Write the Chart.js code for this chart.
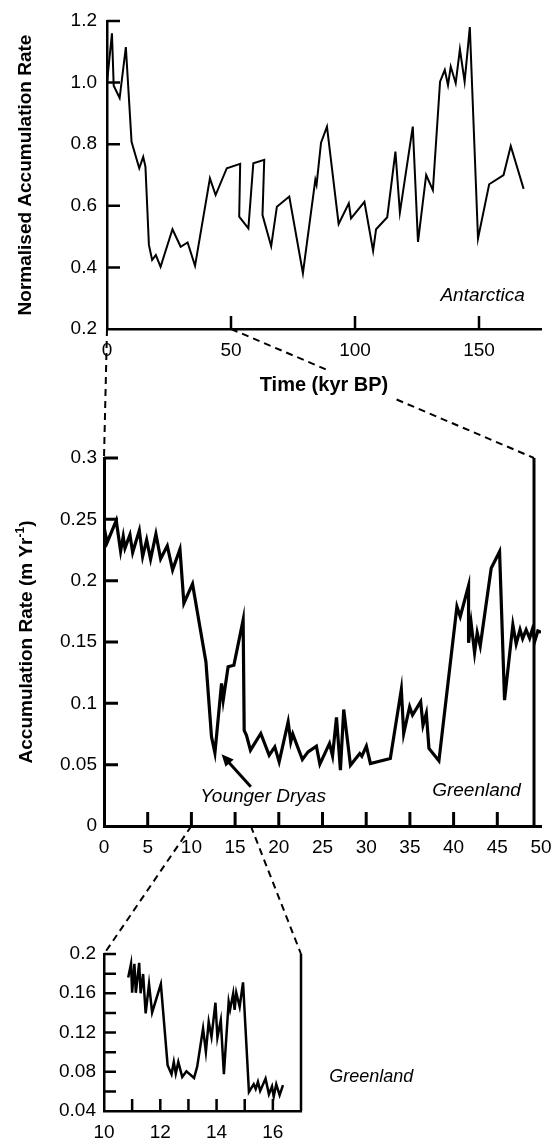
<!DOCTYPE html>
<html>
<head>
<meta charset="utf-8">
<script src="https://cdn.jsdelivr.net/npm/chart.js@4.4.0/dist/chart.umd.min.js"></script>
<style>
  html, body { margin: 0; padding: 0; background: #fff; }
  #page { position: relative; width: 552px; height: 1142px; overflow: hidden; background: #fff; }
  canvas { position: absolute; left: 0; }
  #links { top: 0; z-index: 0; }
  #antarctica { top: 0; z-index: 1; }
  #greenland { top: 440px; z-index: 1; }
  #detail { top: 940px; z-index: 1; }
</style>
</head>
<body>
<div id="page">
  <canvas id="links" width="552" height="1142"></canvas>
  <canvas id="antarctica" width="552" height="410"></canvas>
  <canvas id="greenland" width="552" height="440"></canvas>
  <canvas id="detail" width="552" height="202"></canvas>
</div>
<script>
// top panel: Antarctic record, 0-175 kyr BP
const antYears = [
  0, 2.0, 2.7, 5.1, 7.6, 9.9, 13.0, 14.6, 15.5, 16.9,
  18.2, 19.7, 21.6, 26.4, 29.7, 32.5, 35.5, 41.5, 43.8, 48.3,
  53.7, 53.3, 57.0, 59.0, 63.4, 62.7, 66.2, 68.5, 73.5, 79.0,
  84.0, 84.5, 86.3, 88.7, 93.4, 97.5, 98.4, 103.8, 107.3, 108.5,
  113.0, 116.3, 118.1, 123.3, 125.4, 128.7, 131.4, 134.3, 136.2, 137.5,
  138.6, 140.6, 142.3, 144.2, 146.3, 149.6, 154.1, 159.9, 162.8, 168.0
];
const antRate = [
  1.0, 1.16, 0.99, 0.95, 1.115, 0.808, 0.722, 0.759, 0.727, 0.473,
  0.424, 0.44, 0.402, 0.524, 0.467, 0.481, 0.405, 0.689, 0.635, 0.722,
  0.736, 0.565, 0.527, 0.738, 0.749, 0.57, 0.469, 0.597, 0.63, 0.381,
  0.684, 0.668, 0.805, 0.857, 0.541, 0.608, 0.559, 0.613, 0.454, 0.524,
  0.563, 0.776, 0.578, 0.857, 0.483, 0.70, 0.651, 1.003, 1.041, 0.992,
  1.052, 0.998, 1.108, 1.003, 1.18, 0.494, 0.67, 0.70, 0.794, 0.655
];

// middle panel: Greenland record, 0-50 kyr BP
const grnYears = [
  0, 0.35, 1.4, 1.9, 2.2, 2.4, 2.97, 3.28, 4.04, 4.42,
  4.88, 5.33, 5.94, 6.48, 7.24, 7.85, 8.69, 9.14, 10.13, 10.97,
  11.66, 12.3, 12.69, 13.45, 13.64, 14.2, 14.86, 15.92, 16.04, 16.3,
  16.76, 17.94, 18.9, 19.54, 20.04, 21.07, 21.37, 21.6, 22.7, 23.35,
  24.3, 24.7, 25.8, 26.15, 26.6, 27.05, 27.43, 28.2, 29.26, 29.5,
  30.02, 30.48, 32.76, 34.02, 34.29, 34.97, 35.3, 36.23, 36.5, 36.88,
  37.18, 38.32, 40.38, 40.76, 41.71, 41.71, 42.0, 42.4, 42.7, 43.05,
  44.3, 45.26, 45.83, 46.78, 47.16, 47.6, 47.9, 48.3, 48.7, 49.0,
  49.3, 49.64, 50.0
];
const grnRate = [
  0.244, 0.231, 0.249, 0.224, 0.236, 0.2265, 0.2374, 0.223, 0.241, 0.2197,
  0.2333, 0.2175, 0.238, 0.2178, 0.2284, 0.2088, 0.2257, 0.1816, 0.1974, 0.1625,
  0.134, 0.0727, 0.0596, 0.1163, 0.1026, 0.1298, 0.131, 0.168, 0.078, 0.074,
  0.0618, 0.0754, 0.0577, 0.0645, 0.0523, 0.0849, 0.0686, 0.0749, 0.0542, 0.0604,
  0.0651, 0.0504, 0.0673, 0.0572, 0.0885, 0.0455, 0.095, 0.0496, 0.0591, 0.0569,
  0.0651, 0.051, 0.055, 0.1114, 0.0754, 0.0972, 0.0904, 0.1013, 0.0822, 0.0918,
  0.0632, 0.0531, 0.1788, 0.1707, 0.196, 0.1494, 0.1658, 0.1413, 0.1576, 0.1467,
  0.2102, 0.2237, 0.1026, 0.1639, 0.1484, 0.160, 0.1528, 0.160, 0.153, 0.160,
  0.151, 0.159, 0.158
];

// bottom panel: Younger Dryas detail, 10-17 kyr BP
const ydYears = [
  10.86, 10.96, 11.0, 11.08, 11.13, 11.25, 11.30, 11.39, 11.48, 11.60,
  11.71, 12.02, 12.26, 12.40, 12.48, 12.55, 12.64, 12.78, 12.93, 13.20,
  13.31, 13.52, 13.62, 13.72, 13.82, 13.96, 14.03, 14.15, 14.26, 14.43,
  14.48, 14.59, 14.64, 14.70, 14.82, 14.94, 15.15, 15.32, 15.39, 15.47,
  15.55, 15.74, 15.86, 15.97, 16.03, 16.12, 16.24, 16.36
];
const ydRate = [
  0.176, 0.190, 0.1605, 0.190, 0.1605, 0.191, 0.160, 0.1796, 0.1394, 0.1694,
  0.1404, 0.1694, 0.0867, 0.0775, 0.090, 0.078, 0.090, 0.0747, 0.0805, 0.0737,
  0.085, 0.1241, 0.1003, 0.1309, 0.1156, 0.1503, 0.115, 0.1326, 0.0775, 0.1513,
  0.1435, 0.1598, 0.143, 0.1605, 0.1462, 0.1711, 0.0594, 0.0673, 0.0625, 0.0697,
  0.0605, 0.073, 0.057, 0.065, 0.0547, 0.0673, 0.0562, 0.0663
];

// zoom windows shown by the dashed connectors
const antWindow = [0, 50];
const grnWindowEnd = 49.2;
const grnDetail = [10, 16.8];

const FONT = "'Liberation Sans', Arial, Helvetica, sans-serif";
Chart.defaults.font.family = FONT;
Chart.defaults.color = "#000";

function toPoints(xs, ys) {
  return xs.map((x, i) => ({ x: x, y: ys[i] }));
}

// fixed axis box sizes so the plot areas line up with each other
function fixBox(size) {
  return (scale) => {
    if (scale.isHorizontal()) {
      scale.height = size;
    } else {
      scale.width = size;
    }
    scale.paddingLeft = 0;
    scale.paddingRight = 0;
    scale.paddingTop = 0;
    scale.paddingBottom = 0;
  };
}

// tick marks pointing into the plot
const inwardTicks = {
  id: "inwardTicks",
  afterDraw(chart, args, opts) {
    const { ctx, chartArea, scales } = chart;
    const x = scales.x;
    const y = scales.y;
    ctx.save();
    ctx.strokeStyle = "#000";
    ctx.lineWidth = opts.width;
    ctx.beginPath();
    x.ticks.forEach((t) => {
      if (t.value <= x.min || t.value >= x.max) return;
      const px = x.getPixelForValue(t.value);
      ctx.moveTo(px, chartArea.bottom);
      ctx.lineTo(px, chartArea.bottom - opts.length);
    });
    y.ticks.forEach((t) => {
      if (t.value <= y.min) return;
      const py = y.getPixelForValue(t.value);
      ctx.moveTo(chartArea.left, py);
      ctx.lineTo(chartArea.left + opts.length, py);
    });
    ctx.stroke();
    ctx.restore();
  }
};

// text labels, arrow, right frame line and custom axis title
const notes = {
  id: "notes",
  beforeDraw(chart, args, opts) {
    if (!opts.titleBox) return;
    const s = chart.scales.x;
    const ctx = chart.ctx;
    ctx.save();
    ctx.font = "bold 20px " + FONT;
    const w = ctx.measureText(s.options.title.text).width;
    const cx = (s.left + s.right) / 2;
    const cy = s.bottom - 12 - opts.titleBox;
    ctx.fillStyle = "#fff";
    ctx.fillRect(cx - w / 2 - 5, cy - 15, w + 10, 30);
    ctx.restore();
  },
  afterDraw(chart, args, opts) {
    const { ctx, chartArea, scales } = chart;
    const x = scales.x;
    const y = scales.y;
    ctx.save();
    ctx.fillStyle = "#000";
    ctx.strokeStyle = "#000";

    (opts.labels || []).forEach((l) => {
      ctx.font = l.font;
      ctx.textAlign = l.align;
      ctx.textBaseline = "middle";
      ctx.fillText(l.text, x.getPixelForValue(l.x), y.getPixelForValue(l.y));
    });

    if (opts.edge !== undefined) {
      const px = x.getPixelForValue(opts.edge);
      ctx.lineWidth = opts.edgeWidth;
      ctx.beginPath();
      ctx.moveTo(px, y.getPixelForValue(y.max));
      ctx.lineTo(px, y.getPixelForValue(y.min));
      ctx.stroke();
    }

    if (opts.arrow) {
      const x0 = x.getPixelForValue(opts.arrow.from[0]);
      const y0 = y.getPixelForValue(opts.arrow.from[1]);
      const x1 = x.getPixelForValue(opts.arrow.to[0]);
      const y1 = y.getPixelForValue(opts.arrow.to[1]);
      const a = Math.atan2(y1 - y0, x1 - x0);
      const head = 12;
      ctx.lineWidth = 3;
      ctx.beginPath();
      ctx.moveTo(x0, y0);
      ctx.lineTo(x1 - Math.cos(a) * (head - 2), y1 - Math.sin(a) * (head - 2));
      ctx.stroke();
      ctx.beginPath();
      ctx.moveTo(x1, y1);
      ctx.lineTo(x1 - head * Math.cos(a) + 5.5 * Math.sin(a), y1 - head * Math.sin(a) - 5.5 * Math.cos(a));
      ctx.lineTo(x1 - head * Math.cos(a) - 5.5 * Math.sin(a), y1 - head * Math.sin(a) + 5.5 * Math.cos(a));
      ctx.closePath();
      ctx.fill();
    }

    if (opts.yTitle) {
      const parts = opts.yTitle.parts;
      let total = 0;
      parts.forEach((p) => {
        ctx.font = p.font;
        p.w = ctx.measureText(p.text).width;
        total += p.w;
      });
      ctx.translate(opts.yTitle.x, (chartArea.top + chartArea.bottom) / 2);
      ctx.rotate(-Math.PI / 2);
      ctx.textAlign = "left";
      ctx.textBaseline = "middle";
      let pos = -total / 2;
      parts.forEach((p) => {
        ctx.font = p.font;
        ctx.fillText(p.text, pos, p.rise);
        pos += p.w;
      });
    }
    ctx.restore();
  }
};

function lineDataset(xs, ys, width) {
  return {
    data: toPoints(xs, ys),
    borderColor: "#000",
    borderWidth: width,
    pointRadius: 0,
    tension: 0,
    fill: false
  };
}

function baseOptions(padding) {
  return {
    responsive: false,
    animation: false,
    events: [],
    layout: { padding: padding },
    plugins: {
      legend: { display: false },
      tooltip: { enabled: false }
    }
  };
}

function axis(min, max, step, box, labelPad, width, callback) {
  return {
    type: "linear",
    min: min,
    max: max,
    grid: { display: false, drawTicks: false },
    border: { display: true, color: "#000", width: width },
    ticks: {
      stepSize: step,
      padding: labelPad,
      autoSkip: false,
      maxRotation: 0,
      color: "#000",
      font: { size: 19 },
      callback: callback
    },
    afterFit: fixBox(box)
  };
}

const twoDec = (v) => String(Number(v.toFixed(2)));

// ---- top panel ----
const antOptions = baseOptions({ left: 0, right: 11, top: 21, bottom: 0 });
antOptions.scales = {
  x: axis(0, 175, 50, 81, 10, 2.5, (v) => String(v)),
  y: axis(0.2, 1.2, 0.2, 107, 10, 2.5, (v) => v.toFixed(1))
};
antOptions.scales.x.ticks.includeBounds = false;
antOptions.scales.x.title = {
  display: true,
  text: "Time (kyr BP)",
  font: { size: 20, weight: "bold" },
  padding: { top: 0, bottom: 13 }
};
antOptions.scales.y.title = {
  display: true,
  text: "Normalised Accumulation Rate",
  font: { size: 19, weight: "bold" },
  padding: { top: 14.6, bottom: 0 }
};
antOptions.plugins.inwardTicks = { length: 13, width: 2.5 };
antOptions.plugins.notes = {
  titleBox: 13,
  labels: [
    { text: "Antarctica", x: 168.5, y: 0.307, align: "right", font: "italic 19px " + FONT }
  ]
};

const ant = new Chart(document.getElementById("antarctica"), {
  type: "line",
  data: { datasets: [lineDataset(antYears, antRate, 2)] },
  options: antOptions,
  plugins: [inwardTicks, notes]
});

// ---- middle panel ----
const grnOptions = baseOptions({ left: 0, right: 11, top: 18, bottom: 0 });
grnOptions.scales = {
  x: axis(0, 50, 5, 54, 10, 3, (v) => String(v)),
  y: axis(0, 0.3, 0.05, 104, 7, 3, twoDec)
};
grnOptions.plugins.inwardTicks = { length: 14, width: 3 };
grnOptions.plugins.notes = {
  labels: [
    { text: "Greenland", x: 47.7, y: 0.029, align: "right", font: "italic 19px " + FONT },
    { text: "Younger Dryas", x: 18.2, y: 0.0235, align: "center", font: "italic 19px " + FONT }
  ],
  arrow: { from: [16.8, 0.032], to: [13.45, 0.0585] },
  edge: grnWindowEnd,
  edgeWidth: 3,
  yTitle: {
    x: 27,
    parts: [
      { text: "Accumulation Rate (m Yr", font: "bold 19px " + FONT, rise: 0 },
      { text: "-1", font: "bold 12px " + FONT, rise: -6 },
      { text: ")", font: "bold 19px " + FONT, rise: 0 }
    ]
  }
};

const grn = new Chart(document.getElementById("greenland"), {
  type: "line",
  data: { datasets: [lineDataset(grnYears, grnRate, 3.2)] },
  options: grnOptions,
  plugins: [inwardTicks, notes]
});

// ---- bottom panel ----
const ydOptions = baseOptions({ left: 0, right: 251, top: 14, bottom: 0 });
ydOptions.scales = {
  x: axis(10, 17, 1, 31, 10, 2.5, (v) => (v % 2 === 0 && v < 17 ? String(v) : "")),
  y: axis(0.04, 0.2, 0.02, 104, 8, 2.5, (v) => (Math.round(v * 100) % 4 === 0 ? twoDec(v) : ""))
};
ydOptions.plugins.inwardTicks = { length: 12, width: 2.5 };
ydOptions.plugins.notes = {
  labels: [
    { text: "Greenland", x: 18.0, y: 0.0744, align: "left", font: "italic 18px " + FONT }
  ],
  edge: 17,
  edgeWidth: 2.5
};

const yd = new Chart(document.getElementById("detail"), {
  type: "line",
  data: { datasets: [lineDataset(ydYears, ydRate, 2.5)] },
  options: ydOptions,
  plugins: [inwardTicks, notes]
});

// ---- dashed connectors between the panels ----
function at(chart, xv, yv) {
  return [
    chart.canvas.offsetLeft + chart.scales.x.getPixelForValue(xv),
    chart.canvas.offsetTop + chart.scales.y.getPixelForValue(yv)
  ];
}

function drawLinks() {
  const ctx = document.getElementById("links").getContext("2d");
  const antY = ant.scales.y;
  const grnY = grn.scales.y;
  const ydY = yd.scales.y;
  const links = [
    [at(ant, antWindow[0], antY.min), at(grn, grn.scales.x.min, grnY.max)],
    [at(ant, antWindow[1], antY.min), at(grn, grnWindowEnd, grnY.max)],
    [at(grn, grnDetail[0], grnY.min), at(yd, yd.scales.x.min, ydY.max)],
    [at(grn, grnDetail[1], grnY.min), at(yd, yd.scales.x.max, ydY.max)]
  ];
  ctx.strokeStyle = "#000";
  ctx.lineWidth = 2;
  ctx.setLineDash([7, 5]);
  links.forEach(([a, b]) => {
    ctx.beginPath();
    ctx.moveTo(a[0], a[1]);
    ctx.lineTo(b[0], b[1]);
    ctx.stroke();
  });
}

drawLinks();
</script>
</body>
</html>
